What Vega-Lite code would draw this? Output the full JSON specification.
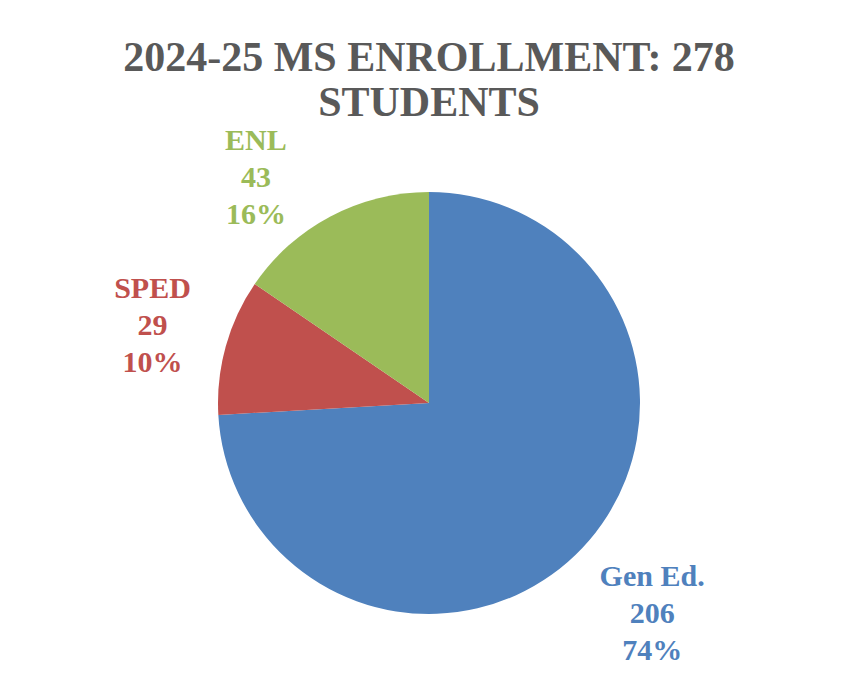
{
  "$schema": "https://vega.github.io/schema/vega-lite/v6.json",
  "autosize": {"type": "none"},
  "padding": {"left": 15, "top": 140, "right": 0, "bottom": 8},
  "width": 828,
  "height": 526,
  "background": "white",
  "config": {"view": {"stroke": null}},
  "title": {
    "text": ["2024-25 MS ENROLLMENT: 278", "STUDENTS"],
    "font": "Liberation Serif",
    "fontWeight": "bold",
    "fontSize": 42,
    "lineHeight": 45,
    "color": "#595959",
    "anchor": "middle",
    "frame": "group",
    "offset": 18,
    "dy": 63
  },
  "data": {
    "values": [
      {"category": "Gen Ed.", "count": 206, "pct": "74%", "order": 1, "label": "Gen Ed.\n206\n74%"},
      {"category": "SPED", "count": 29, "pct": "10%", "order": 2, "label": "SPED\n29\n10%"},
      {"category": "ENL", "count": 43, "pct": "16%", "order": 3, "label": "ENL\n43\n16%"}
    ]
  },
  "encoding": {
    "theta": {"field": "count", "type": "quantitative", "stack": true},
    "order": {"field": "order", "type": "quantitative"},
    "color": {
      "field": "category",
      "type": "nominal",
      "scale": {"domain": ["Gen Ed.", "SPED", "ENL"], "range": ["#4F81BD", "#C0504D", "#9BBB59"]},
      "legend": null
    }
  },
  "layer": [
    {"mark": {"type": "arc", "outerRadius": 211}},
    {
      "mark": {"type": "text", "radius": 307, "dy": -37, "font": "Liberation Serif", "fontWeight": "bold", "fontSize": 30, "lineBreak": "\n", "lineHeight": 37, "align": "center", "baseline": "middle"},
      "encoding": {"text": {"condition": {"test": "datum.category === 'Gen Ed.'", "field": "label"}, "value": ""}}
    },
    {
      "mark": {"type": "text", "radius": 287, "dy": -37, "font": "Liberation Serif", "fontWeight": "bold", "fontSize": 30, "lineBreak": "\n", "lineHeight": 37, "align": "center", "baseline": "middle"},
      "encoding": {"text": {"condition": {"test": "datum.category === 'SPED'", "field": "label"}, "value": ""}}
    },
    {
      "mark": {"type": "text", "radius": 285, "dx": -40, "dy": -10, "font": "Liberation Serif", "fontWeight": "bold", "fontSize": 30, "lineBreak": "\n", "lineHeight": 37, "align": "center", "baseline": "middle"},
      "encoding": {"text": {"condition": {"test": "datum.category === 'ENL'", "field": "label"}, "value": ""}}
    }
  ]
}
